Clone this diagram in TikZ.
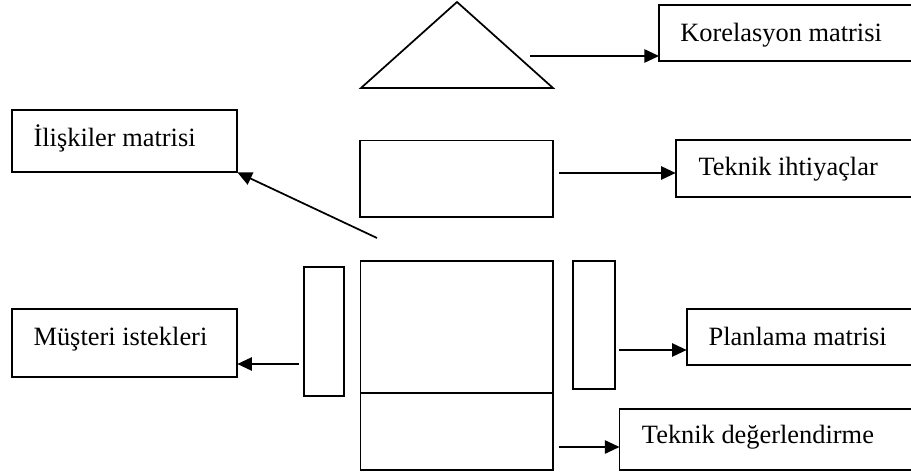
\documentclass[tikz,border=0pt]{standalone}
\usepackage{fontspec}
\setmainfont{Liberation Serif}
\usetikzlibrary{arrows.meta, calc, fit}

\begin{document}
\begin{tikzpicture}[
        x=0.75pt, y=-0.75pt,
        panel/.style={rectangle, draw, line width=1.3pt, inner sep=0pt, outer sep=0pt},
        txt/.style={anchor=base west, inner sep=0pt, font=\fontsize{19.8}{24}\selectfont},
        arrow/.style={line width=1.3pt, -{Triangle[length=11pt, width=10pt]}}
    ]
        \useasboundingbox (0,0) rectangle (911,474);
        \clip (0,0) rectangle (911,474);

        % roof of the house
        \coordinate (roofL) at (361,88);
        \coordinate (roofT) at (457,2);
        \coordinate (roofR) at (553,88);
        \draw [line width=1.3pt] (roofL) -- (roofT) -- (roofR) -- cycle;

        % house body
        \node (tech) [panel, fit={(360,140.5) (553,217)}] {};
        \node (rel) [panel, fit={(360.5,261) (552.7,393)}] {};
        \node (bench) [panel, fit={(360.5,393) (552.7,470)}] {};
        \node (cust) [panel, fit={(304,267.3) (344.3,395.7)}] {};
        \node (plancol) [panel, fit={(573.3,260.7) (615,389.3)}] {};

        % labels
        \node (korel) [panel, fit={(659,5) (916,61)}] {};
        \node (iliski) [panel, fit={(12.3,110) (237.3,172.3)}] {};
        \node (ihtiyac) [panel, fit={(675.7,140) (916,197)}] {};
        \node (musteri) [panel, fit={(12.3,309.3) (237.3,376.7)}] {};
        \node (plan) [panel, fit={(686.7,309.3) (916,365)}] {};
        \node (deger) [panel, fit={(619.5,409) (916,470)}] {};

        \node (korelTxt) [txt] at (680,41.7) {Korelasyon matrisi};
        \node (iliskiTxt) [txt] at (33.3,146.7) {İlişkiler matrisi};
        \node (ihtiyacTxt) [txt] at (698.3,175.5) {Teknik ihtiyaçlar};
        \node (musteriTxt) [txt] at (33.3,345) {Müşteri istekleri};
        \node (planTxt) [txt] at (708.3,345) {Planlama matrisi};
        \node (degerTxt) [txt] at (641.7,443.3) {Teknik değerlendirme};

        % arrows
        \coordinate (fromRoof) at (530,56);
        \coordinate (fromTech) at (559,173);
        \coordinate (fromRel) at (377,238);
        \coordinate (fromCust) at (299,364);
        \coordinate (fromPlan) at (619,350);
        \coordinate (fromBench) at (559,447);

        \draw [arrow] (fromRoof) -- (fromRoof -| korel.west);
        \draw [arrow] (fromTech) -- (fromTech -| ihtiyac.west);
        \draw [arrow] (fromRel) -- (iliski.south east);
        \draw [arrow] (fromCust) -- (fromCust -| musteri.east);
        \draw [arrow] (fromPlan) -- (fromPlan -| plan.west);
        \draw [arrow] (fromBench) -- (fromBench -| deger.west);
    \end{tikzpicture}
\end{document}
